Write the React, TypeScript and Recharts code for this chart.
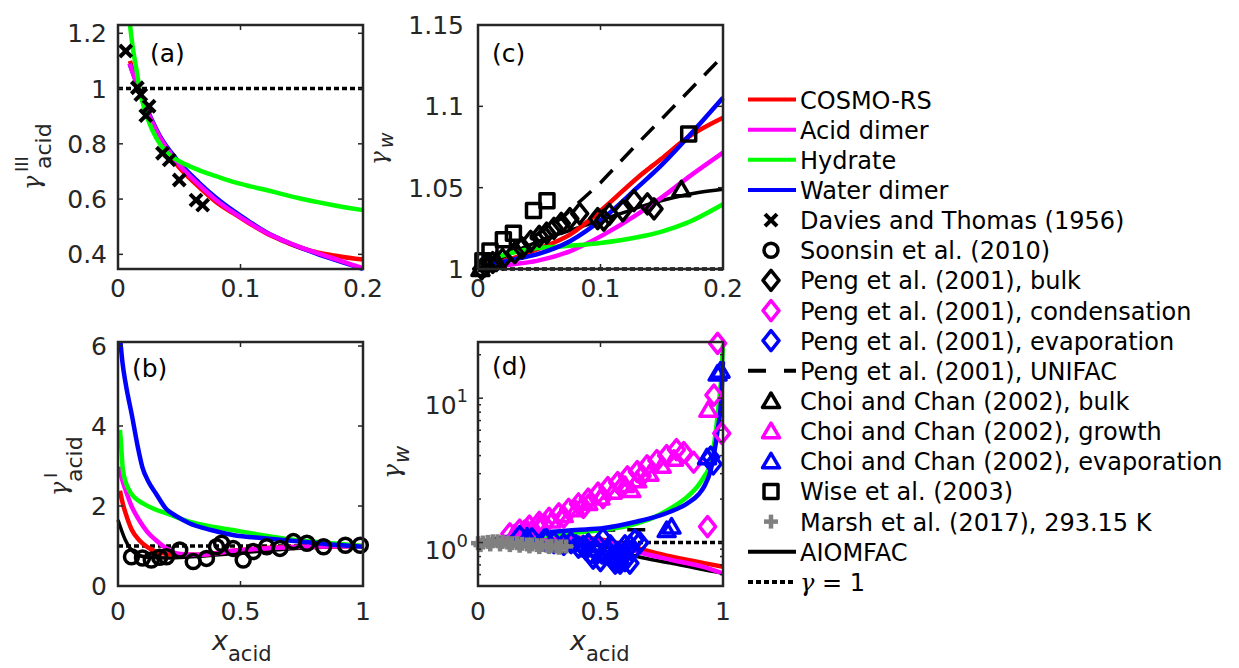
import React from "react";
import { ComposedChart, Line, Scatter, XAxis, YAxis } from "recharts";

type P = [number, number];
const pts = (a: P[]) => a.map(([x, y]) => ({ x, y }));

// ---- (a) gamma_acid^III, dilute end
const aDavies: P[] = [[0.0063, 1.136], [0.0158, 1.003], [0.0186, 0.978], [0.0254, 0.936], [0.0227, 0.902], [0.0363, 0.766], [0.0418, 0.742], [0.05, 0.669], [0.0637, 0.596], [0.0691, 0.578]];
const aCosmo: P[] = [[0.0098, 1.1], [0.0197, 0.96], [0.034, 0.815], [0.047, 0.73], [0.066, 0.644], [0.08, 0.59], [0.094, 0.549], [0.108, 0.51], [0.121, 0.476], [0.135, 0.448], [0.148, 0.425], [0.162, 0.408], [0.176, 0.396], [0.2, 0.381]];
const aAcidDimer: P[] = [[0.0095, 1.09], [0.0197, 0.965], [0.034, 0.825], [0.047, 0.74], [0.066, 0.652], [0.08, 0.597], [0.094, 0.552], [0.108, 0.512], [0.121, 0.478], [0.135, 0.45], [0.148, 0.427], [0.162, 0.405], [0.176, 0.385], [0.19, 0.364], [0.2, 0.35]];
const aWaterDimer: P[] = [[0.0095, 1.09], [0.0197, 0.968], [0.034, 0.83], [0.047, 0.748], [0.066, 0.66], [0.08, 0.605], [0.094, 0.558], [0.108, 0.516], [0.121, 0.48], [0.135, 0.45], [0.148, 0.426], [0.162, 0.403], [0.176, 0.382], [0.19, 0.362], [0.2, 0.347]];
const aHydrate: P[] = [[0.0098, 1.23], [0.012, 1.15], [0.015, 1.07], [0.018, 0.99], [0.022, 0.92], [0.028, 0.85], [0.035, 0.795], [0.042, 0.76], [0.05, 0.737], [0.066, 0.705], [0.08, 0.683], [0.094, 0.662], [0.108, 0.646], [0.121, 0.633], [0.135, 0.617], [0.148, 0.603], [0.162, 0.59], [0.176, 0.578], [0.19, 0.567], [0.2, 0.56]];
const aOne: P[] = [[0, 1], [0.2, 1]];

// ---- (b) gamma_acid^I, full range
const bSoonsin: P[] = [[0.055, 0.73], [0.1, 0.7], [0.136, 0.65], [0.17, 0.72], [0.198, 0.73], [0.252, 0.9], [0.307, 0.61], [0.361, 0.69], [0.402, 0.98], [0.423, 1.07], [0.47, 0.94], [0.511, 0.65], [0.552, 0.86], [0.607, 0.98], [0.661, 0.94], [0.716, 1.11], [0.771, 1.07], [0.839, 0.98], [0.928, 1.02], [0.989, 1.02]];
const bAiomfac: P[] = [[0.0, 1.65], [0.03, 1.15], [0.07, 0.82], [0.12, 0.72], [0.2, 0.7], [0.3, 0.73], [0.45, 0.8], [0.6, 0.88], [0.8, 0.96], [1.0, 1.0]];
const bCosmo: P[] = [[0.008, 2.38], [0.02, 2.05], [0.031, 1.82], [0.055, 1.42], [0.086, 1.15], [0.12, 0.97], [0.154, 0.86], [0.2, 0.8], [0.236, 0.78], [0.332, 0.78], [0.469, 0.88], [0.674, 0.97], [1.0, 1.0]];
const bAcidDimer: P[] = [[0.005, 2.98], [0.015, 2.7], [0.031, 2.4], [0.055, 2.0], [0.086, 1.65], [0.12, 1.35], [0.154, 1.15], [0.19, 0.97], [0.236, 0.82], [0.28, 0.79], [0.332, 0.78], [0.4, 0.82], [0.469, 0.88], [0.6, 0.94], [0.75, 0.98], [1.0, 1.0]];
const bHydrate: P[] = [[0.008, 3.9], [0.012, 3.6], [0.02, 2.9], [0.045, 2.4], [0.07, 2.2], [0.1, 2.07], [0.15, 1.92], [0.195, 1.82], [0.291, 1.61], [0.469, 1.4], [0.674, 1.19], [0.85, 1.08], [1.0, 1.0]];
const bWaterDimer: P[] = [[0.01, 6.1], [0.018, 5.6], [0.031, 5.07], [0.058, 4.23], [0.08, 3.5], [0.099, 2.98], [0.125, 2.6], [0.154, 2.32], [0.195, 1.94], [0.24, 1.74], [0.291, 1.57], [0.38, 1.4], [0.469, 1.275], [0.606, 1.19], [0.743, 1.11], [0.87, 1.04], [1.0, 0.98]];
const bOne: P[] = [[0, 1], [1, 1]];

// ---- (c) gamma_w, dilute end
const cWise: P[] = [[0.004, 1.005], [0.0098, 1.011], [0.0207, 1.018], [0.0289, 1.022], [0.0453, 1.036], [0.0563, 1.042], [0.172, 1.083]];
const cPengBulk: P[] = [[0.003, 1.0], [0.006, 1.002], [0.012, 1.004], [0.02, 1.006], [0.03, 1.01], [0.036, 1.013], [0.043, 1.017], [0.05, 1.02], [0.056, 1.022], [0.062, 1.025], [0.068, 1.028], [0.075, 1.031], [0.083, 1.034], [0.0977, 1.031], [0.1027, 1.03], [0.1072, 1.0336], [0.1182, 1.0357], [0.1273, 1.042], [0.1383, 1.04], [0.1437, 1.037]];
const cChoiBulk: P[] = [[0.002, 1.0], [0.008, 1.003], [0.015, 1.005], [0.166, 1.049]];
const cUnifac: P[] = [[0, 1], [0.02, 1.008], [0.04, 1.017], [0.0686, 1.0315], [0.1, 1.053], [0.127, 1.0746], [0.16, 1.1], [0.2, 1.131]];
const cAiomfac: P[] = [[0, 1], [0.02, 1.007], [0.04, 1.014], [0.06, 1.02], [0.08, 1.025], [0.1, 1.03], [0.12, 1.035], [0.14, 1.04], [0.16, 1.044], [0.18, 1.047], [0.2, 1.049]];
const cCosmo: P[] = [[0.005, 1.002], [0.03, 1.007], [0.048, 1.012], [0.0754, 1.0213], [0.103, 1.0377], [0.13, 1.056], [0.15, 1.068], [0.171, 1.0808], [0.2, 1.093]];
const cAcidDimer: P[] = [[0.005, 1.001], [0.03, 1.003], [0.048, 1.005], [0.0754, 1.011], [0.103, 1.0213], [0.13, 1.0336], [0.15, 1.044], [0.171, 1.056], [0.2, 1.0715]];
const cHydrate: P[] = [[0.005, 1.005], [0.04, 1.012], [0.07, 1.014], [0.1, 1.016], [0.13, 1.0195], [0.15, 1.023], [0.171, 1.0285], [0.2, 1.0398]];
const cWaterDimer: P[] = [[0.005, 1.002], [0.03, 1.006], [0.048, 1.009], [0.0754, 1.0172], [0.103, 1.0316], [0.13, 1.05], [0.15, 1.064], [0.171, 1.0808], [0.2, 1.1053]];
const cOne: P[] = [[0, 1], [0.2, 1]];

// ---- (d) gamma_w, full range (log)
const dPengCond: P[] = [[0.13, 1.15], [0.17, 1.22], [0.21, 1.3], [0.25, 1.38], [0.29, 1.47], [0.33, 1.58], [0.37, 1.7], [0.41, 1.85], [0.45, 2.0], [0.49, 2.2], [0.53, 2.4], [0.57, 2.6], [0.61, 2.85], [0.65, 3.1], [0.69, 3.4], [0.73, 3.7], [0.77, 4.0], [0.81, 4.4], [0.84, 4.2], [0.88, 3.6], [0.19, 1.2], [0.27, 1.33], [0.35, 1.5], [0.43, 1.75], [0.51, 2.05], [0.59, 2.45], [0.67, 2.9], [0.937, 1.29], [0.963, 10.5], [0.995, 5.7], [0.978, 24.0]];
const dChoiGrowth: P[] = [[0.15, 1.16], [0.2, 1.24], [0.25, 1.32], [0.3, 1.42], [0.35, 1.55], [0.4, 1.7], [0.45, 1.88], [0.5, 2.05], [0.55, 2.25], [0.6, 2.5], [0.626, 2.31], [0.65, 2.7], [0.7, 3.0], [0.75, 3.4], [0.8, 3.8], [0.94, 8.3]];
const dPengEvap: P[] = [[0.17, 1.1], [0.22, 1.06], [0.27, 1.04], [0.31, 1.0], [0.35, 0.97], [0.38, 1.0], [0.41, 0.93], [0.43, 0.94], [0.44, 0.9], [0.45, 0.97], [0.46, 0.84], [0.47, 0.78], [0.48, 0.88], [0.49, 0.96], [0.5, 0.75], [0.51, 1.06], [0.52, 0.85], [0.53, 0.88], [0.54, 0.95], [0.55, 0.76], [0.56, 0.72], [0.57, 0.74], [0.57, 0.85], [0.58, 0.72], [0.59, 0.8], [0.6, 0.75], [0.6, 0.95], [0.62, 0.72], [0.62, 0.95], [0.63, 0.88], [0.64, 1.04], [0.66, 1.0], [0.96, 3.5], [0.95, 3.9]];
const dChoiEvap: P[] = [[0.2, 1.1], [0.28, 1.08], [0.4, 0.98], [0.45, 0.9], [0.5, 0.82], [0.54, 0.8], [0.58, 0.76], [0.6, 0.88], [0.77, 1.22], [0.79, 1.29], [0.935, 3.9], [0.978, 14.8], [0.99, 15.5]];
const dMarsh: P[] = [[0.0, 0.99], [0.02, 1.0], [0.04, 1.01], [0.06, 1.02], [0.08, 1.02], [0.1, 1.01], [0.12, 1.0], [0.14, 0.99], [0.16, 0.99], [0.18, 0.98], [0.2, 0.97], [0.22, 0.97], [0.24, 0.96], [0.26, 0.96], [0.28, 0.95], [0.3, 0.95], [0.32, 0.94], [0.34, 0.94], [0.36, 0.94], [0.01, 0.96], [0.05, 0.97], [0.09, 0.97], [0.13, 0.96], [0.17, 0.95], [0.21, 0.94], [0.25, 0.93], [0.29, 0.93], [0.33, 0.92]];
const dUnifac: P[] = [[0, 1.0], [0.1, 1.06], [0.24, 1.13], [0.35, 1.19], [0.45, 1.22], [0.6, 1.225], [0.72, 1.225]];
const dAiomfac: P[] = [[0, 1.0], [0.1, 1.02], [0.2, 1.03], [0.3, 1.03], [0.4, 0.99], [0.514, 0.938], [0.65, 0.8], [0.787, 0.72], [0.923, 0.647], [1.0, 0.614]];
const dCosmo: P[] = [[0, 1.0], [0.1, 1.03], [0.2, 1.05], [0.3, 1.07], [0.4, 1.08], [0.45, 1.075], [0.5, 1.05], [0.6, 0.96], [0.65, 0.915], [0.787, 0.8], [0.923, 0.72], [1.0, 0.68]];
const dAcidDimer: P[] = [[0, 1.0], [0.1, 1.03], [0.2, 1.05], [0.3, 1.065], [0.4, 1.07], [0.45, 1.06], [0.5, 1.03], [0.6, 0.93], [0.65, 0.867], [0.787, 0.759], [0.923, 0.676], [1.0, 0.61]];
const dHydrate: P[] = [[0, 0.99], [0.1, 1.04], [0.24, 1.1], [0.4, 1.17], [0.514, 1.224], [0.65, 1.36], [0.72, 1.5], [0.787, 1.73], [0.855, 2.08], [0.9, 2.5], [0.923, 2.86], [0.95, 3.53], [0.971, 6.0], [0.985, 10], [0.992, 13.3], [1.0, 23.5]];
const dWaterDimer: P[] = [[0, 1.0], [0.1, 1.08], [0.24, 1.16], [0.4, 1.22], [0.514, 1.26], [0.65, 1.4], [0.72, 1.5], [0.787, 1.64], [0.855, 1.87], [0.9, 2.15], [0.923, 2.44], [0.95, 3.18], [0.978, 6.0], [0.993, 10], [1.0, 18]];
const dOne: P[] = [[0, 1], [1, 1]];

// ---- ticks
const aXTicks = [0, 0.1, 0.2];
const aYTicks = [0.4, 0.6, 0.8, 1, 1.2];
const bXTicks = [0, 0.5, 1];
const bYTicks = [0, 2, 4, 6];
const cXTicks = [0, 0.1, 0.2];
const cYTicks = [1, 1.05, 1.1, 1.15];
const dXTicks = [0, 0.5, 1];
const dYTicks = [0.5, 0.6, 0.7, 0.8, 0.9, 1, 2, 3, 4, 5, 6, 7, 8, 9, 10, 20];
const dYMajor = [1, 10];

const FONT = '"DejaVu Sans", sans-serif';
const SERIF = '"DejaVu Serif", serif';
const AX = "#262626";
const RED = "#ff0000", MAG = "#ff00ff", GRN = "#00ff00", BLU = "#0000ff", BLK = "#000000", GRY = "#808080";
const LW = 4.5;

type Kind = "x" | "o" | "d" | "t" | "s" | "+";

function Marker({ kind, cx, cy, color }: { kind: Kind; cx: number; cy: number; color: string }) {
  const s = { stroke: color, fill: "none", strokeWidth: 3.5 };
  if (kind === "x") return (
    <g stroke={color} strokeWidth={4}>
      <line x1={cx - 6} y1={cy - 6} x2={cx + 6} y2={cy + 6} />
      <line x1={cx - 6} y1={cy + 6} x2={cx + 6} y2={cy - 6} />
    </g>
  );
  if (kind === "+") return (
    <g stroke={color} strokeWidth={4.5}>
      <line x1={cx - 7} y1={cy} x2={cx + 7} y2={cy} />
      <line x1={cx} y1={cy - 7} x2={cx} y2={cy + 7} />
    </g>
  );
  if (kind === "o") return <circle cx={cx} cy={cy} r={7} {...s} />;
  if (kind === "s") return <rect x={cx - 7} y={cy - 7} width={14} height={14} {...s} strokeLinejoin="round" />;
  if (kind === "d") return <path d={`M${cx},${cy - 10}L${cx + 8},${cy}L${cx},${cy + 10}L${cx - 8},${cy}Z`} {...s} strokeLinejoin="round" />;
  return <path d={`M${cx},${cy - 8}L${cx + 8.5},${cy + 6.5}L${cx - 8.5},${cy + 6.5}Z`} {...s} strokeLinejoin="round" />;
}

const dots = (data: P[], kind: Kind, color: string) => (
  <Scatter data={pts(data)} dataKey="y" isAnimationActive={false}
    shape={(p: any) => <Marker kind={kind} cx={p.cx} cy={p.cy} color={color} />} />
);

const curve = (data: P[], color: string, width = LW, dash?: string) => (
  <Line data={pts(data)} dataKey="y" stroke={color} strokeWidth={width} strokeDasharray={dash}
    type={dash ? "linear" : "monotone"} dot={false} activeDot={false} isAnimationActive={false} />
);

type Box = { left: number; top: number; w: number; h: number };
const boxA: Box = { left: 118, top: 25, w: 245, h: 244 };
const boxC: Box = { left: 478, top: 25, w: 245, h: 244 };
const boxB: Box = { left: 118, top: 342, w: 245, h: 244 };
const boxD: Box = { left: 478, top: 342, w: 245, h: 244 };

function Panel(props: {
  box: Box; xDomain: number[]; yDomain: number[]; xTicks: number[]; yTicks: number[];
  log?: boolean; yGap: number; xBase: number; children: React.ReactNode;
}) {
  const { box, xDomain, yDomain, xTicks, yTicks, log, yGap, xBase, children } = props;
  const { left, top, w, h } = box;
  const YW = 110, MT = 30, MR = 30, XH = 60;

  const XTick = (p: any) => {
    const { x, y, payload } = p;
    return (
      <g>
        <line x1={x} x2={x} y1={y} y2={y - 5} stroke={AX} strokeWidth={1.5} />
        <line x1={x} x2={x} y1={y - h} y2={y - h + 5} stroke={AX} strokeWidth={1.5} />
        <text x={x} y={y + xBase} textAnchor="middle" fontSize={25} fill={AX} fontFamily={FONT}>{String(payload.value)}</text>
      </g>
    );
  };

  const YTick = (p: any) => {
    const { x, y, payload } = p;
    const v = payload.value as number;
    const major = !log || dYMajor.includes(v);
    const len = major ? 5 : 3;
    return (
      <g>
        <line x1={x} x2={x + len} y1={y} y2={y} stroke={AX} strokeWidth={1.5} />
        <line x1={x + w} x2={x + w - len} y1={y} y2={y} stroke={AX} strokeWidth={1.5} />
        {!log && (
          <text x={x - yGap} y={y + 9} textAnchor="end" fontSize={25} fill={AX} fontFamily={FONT}>{String(v)}</text>
        )}
        {log && major && (
          <text x={x - yGap} y={y + 16} textAnchor="end" fontSize={25} fill={AX} fontFamily={FONT}>
            10<tspan fontSize={18} dy={-12}>{v === 1 ? "0" : "1"}</tspan>
          </text>
        )}
      </g>
    );
  };

  return (
    <div style={{ position: "absolute", left: left - YW, top: top - MT }}>
      <ComposedChart width={YW + w + MR} height={MT + h + XH} margin={{ top: MT, right: MR, bottom: 0, left: 0 }}>
        <XAxis dataKey="x" type="number" domain={xDomain} ticks={xTicks} interval={0} height={XH}
          tickSize={0} tickMargin={0} axisLine={false} tickLine={false} tick={XTick} />
        <YAxis dataKey="y" type="number" scale={log ? "log" : "linear"} domain={yDomain} ticks={yTicks} interval={0} width={YW}
          tickSize={0} tickMargin={0} axisLine={false} tickLine={false} tick={YTick} />
        {children}
      </ComposedChart>
    </div>
  );
}

const legendItems: { label: string; kind: Kind | "line"; color: string; dash?: string }[] = [
  { label: "COSMO-RS", kind: "line", color: RED },
  { label: "Acid dimer", kind: "line", color: MAG },
  { label: "Hydrate", kind: "line", color: GRN },
  { label: "Water dimer", kind: "line", color: BLU },
  { label: "Davies and Thomas (1956)", kind: "x", color: BLK },
  { label: "Soonsin et al. (2010)", kind: "o", color: BLK },
  { label: "Peng et al. (2001), bulk", kind: "d", color: BLK },
  { label: "Peng et al. (2001), condensation", kind: "d", color: MAG },
  { label: "Peng et al. (2001), evaporation", kind: "d", color: BLU },
  { label: "Peng et al. (2001), UNIFAC", kind: "line", color: BLK, dash: "18 18" },
  { label: "Choi and Chan (2002), bulk", kind: "t", color: BLK },
  { label: "Choi and Chan (2002), growth", kind: "t", color: MAG },
  { label: "Choi and Chan (2002), evaporation", kind: "t", color: BLU },
  { label: "Wise et al. (2003)", kind: "s", color: BLK },
  { label: "Marsh et al. (2017), 293.15 K", kind: "+", color: GRY },
  { label: "AIOMFAC", kind: "line", color: BLK },
  { label: "= 1", kind: "line", color: BLK, dash: "5 3" },
];

function Overlay() {
  const frames = [boxA, boxB, boxC, boxD];
  return (
    <svg width={1239} height={668} style={{ position: "absolute", left: 0, top: 0, pointerEvents: "none" }}>
      {frames.map((b, i) => (
        <rect key={i} x={b.left} y={b.top} width={b.w} height={b.h} fill="none" stroke={AX} strokeWidth={2.5} />
      ))}
      <g fontFamily={FONT} fontSize={25} fill={BLK}>
        <text x={150} y={62}>(a)</text>
        <text x={492} y={62}>(c)</text>
        <text x={132} y={377}>(b)</text>
        <text x={492} y={375}>(d)</text>
      </g>
      {/* y labels */}
      <g fill={AX}>
        <text transform="translate(40,190) rotate(-90)" fontFamily={SERIF} fontStyle="italic" fontSize={24}>γ</text>
        <text transform="translate(28,172) rotate(-90)" fontFamily={FONT} fontSize={18}>III</text>
        <text transform="translate(51,169) rotate(-90)" fontFamily={FONT} fontSize={22}>acid</text>

        <text transform="translate(67,496) rotate(-90)" fontFamily={SERIF} fontStyle="italic" fontSize={24}>γ</text>
        <text transform="translate(57,478) rotate(-90)" fontFamily={FONT} fontSize={18}>I</text>
        <text transform="translate(82,482) rotate(-90)" fontFamily={FONT} fontSize={22}>acid</text>

        <text transform="translate(386,165) rotate(-90)" fontFamily={SERIF} fontStyle="italic" fontSize={23}>γ</text>
        <text transform="translate(393,148) rotate(-90)" fontFamily={FONT} fontStyle="italic" fontSize={19}>w</text>

        <text transform="translate(400,479) rotate(-90)" fontFamily={SERIF} fontStyle="italic" fontSize={25}>γ</text>
        <text transform="translate(409,463) rotate(-90)" fontFamily={FONT} fontStyle="italic" fontSize={21}>w</text>
      </g>
      {/* x labels */}
      <g fill={AX} fontFamily={FONT}>
        <text x={212} y={650} fontSize={27} fontStyle="italic">x</text>
        <text x={228} y={661} fontSize={21}>acid</text>
        <text x={570} y={650} fontSize={27} fontStyle="italic">x</text>
        <text x={586} y={661} fontSize={21}>acid</text>
      </g>
      {/* legend */}
      {legendItems.map((it, i) => {
        const y = 99.5 + i * 30.15;
        const last = i === legendItems.length - 1;
        return (
          <g key={it.label}>
            {it.kind === "line" ? (
              <line x1={748} x2={796} y1={y} y2={y} stroke={it.color} strokeWidth={4} strokeDasharray={it.dash} />
            ) : (
              <Marker kind={it.kind} cx={771} cy={y} color={it.color} />
            )}
            <text x={800} y={y + 9} fontFamily={FONT} fontSize={24} fill={BLK}>
              {last && <tspan fontFamily={SERIF} fontStyle="italic">γ</tspan>}
              {last ? " " + it.label : it.label}
            </text>
          </g>
        );
      })}
    </svg>
  );
}

export default function App() {
  return (
    <div style={{ position: "absolute", left: 0, top: 0, width: 1239, height: 668, background: "#fff", overflow: "hidden" }}>
      <Panel box={boxA} xDomain={[0, 0.2]} yDomain={[0.35, 1.23]} xTicks={aXTicks} yTicks={aYTicks} yGap={11} xBase={28}>
        {dots(aDavies, "x", BLK)}
        {curve(aOne, BLK, 3.5, "5 3")}
        {curve(aCosmo, RED)}
        {curve(aWaterDimer, BLU)}
        {curve(aAcidDimer, MAG)}
        {curve(aHydrate, GRN)}
      </Panel>
      <Panel box={boxB} xDomain={[0, 1]} yDomain={[0, 6.1]} xTicks={bXTicks} yTicks={bYTicks} yGap={11} xBase={34}>
        {dots(bSoonsin, "o", BLK)}
        {curve(bOne, BLK, 3.5, "5 3")}
        {curve(bAiomfac, BLK, 3.5)}
        {curve(bCosmo, RED)}
        {curve(bAcidDimer, MAG)}
        {curve(bHydrate, GRN)}
        {curve(bWaterDimer, BLU)}
      </Panel>
      <Panel box={boxC} xDomain={[0, 0.2]} yDomain={[1, 1.15]} xTicks={cXTicks} yTicks={cYTicks} yGap={14} xBase={28}>
        {dots(cWise, "s", BLK)}
        {dots(cPengBulk, "d", BLK)}
        {dots(cChoiBulk, "t", BLK)}
        {curve(cOne, BLK, 3.5, "5 3")}
        {curve(cUnifac, BLK, 3.5, "18 12")}
        {curve(cAiomfac, BLK, 3.5)}
        {curve(cCosmo, RED)}
        {curve(cAcidDimer, MAG)}
        {curve(cHydrate, GRN)}
        {curve(cWaterDimer, BLU)}
      </Panel>
      <Panel box={boxD} xDomain={[0, 1]} yDomain={[0.5, 24.5]} xTicks={dXTicks} yTicks={dYTicks} log yGap={10} xBase={34}>
        {dots(dPengCond, "d", MAG)}
        {dots(dChoiGrowth, "t", MAG)}
        {dots(dPengEvap, "d", BLU)}
        {dots(dChoiEvap, "t", BLU)}
        {dots(dMarsh, "+", GRY)}
        {curve(dOne, BLK, 3.5, "5 3")}
        {curve(dUnifac, BLK, 3.5, "18 12")}
        {curve(dAiomfac, BLK, 3.5)}
        {curve(dCosmo, RED)}
        {curve(dAcidDimer, MAG)}
        {curve(dHydrate, GRN)}
        {curve(dWaterDimer, BLU)}
      </Panel>
      <Overlay />
    </div>
  );
}
